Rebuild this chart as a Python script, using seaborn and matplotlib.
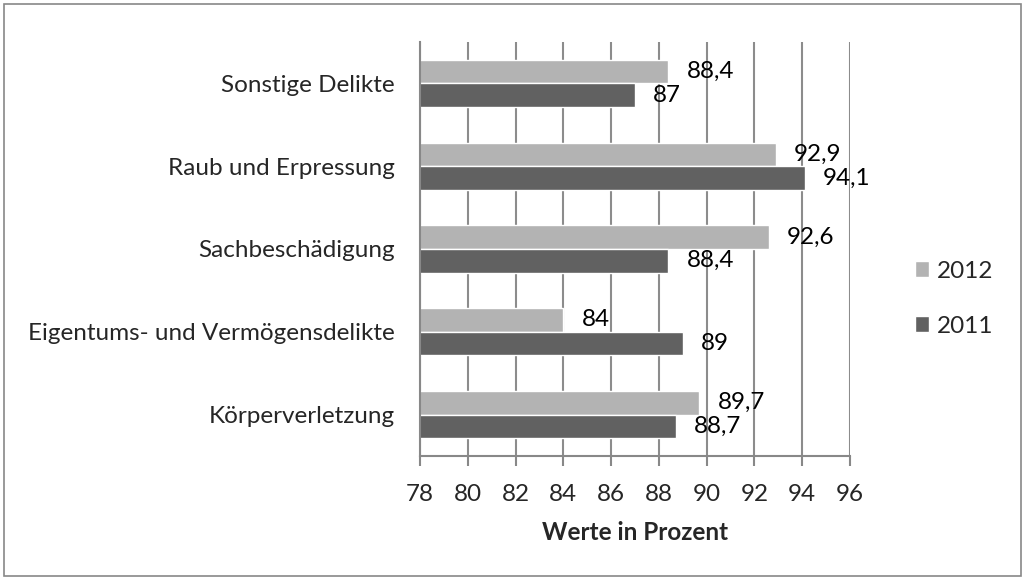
import numpy as np
import pandas as pd
import seaborn as sns
import matplotlib.pyplot as plt
from matplotlib.patches import Rectangle

# Daten (von oben nach unten)
kategorien = ["Sonstige Delikte", "Raub und Erpressung", "Sachbeschädigung",
              "Eigentums- und Vermögensdelikte", "Körperverletzung"]
werte_2012 = [88.4, 92.9, 92.6, 84.0, 89.7]
werte_2011 = [87.0, 94.1, 88.4, 89.0, 88.7]
jahre = ["2012", "2011"]
x_ticks = [78, 80, 82, 84, 86, 88, 90, 92, 94, 96]

df = pd.DataFrame({
    "Kategorie": kategorien * 2,
    "Jahr": ["2012"] * len(kategorien) + ["2011"] * len(kategorien),
    "Wert": werte_2012 + werte_2011,
})

sns.set_theme(style="white")
plt.rcParams["font.family"] = ["Lato", "DejaVu Sans"]
fs = 17.5

fig = plt.figure(figsize=(10.26, 5.8), dpi=100)
ax = fig.add_axes([0.4094, 0.2138, 0.419, 0.7138])

sns.barplot(data=df, y="Kategorie", x="Wert", hue="Jahr", hue_order=jahre,
            order=kategorien, palette=["#b3b3b3", "#616161"], orient="h",
            width=0.57, gap=0, saturation=1, errorbar=None, ax=ax)

# Beschriftungen der Balken
for cont in ax.containers:
    labels = [f"{v:g}".replace(".", ",") for v in cont.datavalues]
    ax.bar_label(cont, labels=labels, padding=13, fontsize=fs, color="black")

ax.set_xlim(78, 96)
ax.set_xticks(x_ticks)
ax.set_xticklabels([str(t) for t in x_ticks], fontsize=fs)
ax.set_ylim(4.5, -0.5)
ax.set_yticks(range(len(kategorien)))
ax.set_yticklabels(kategorien, fontsize=fs)
ax.set_yticks(np.arange(-0.5, len(kategorien)), minor=True)
ax.tick_params(axis="y", which="major", length=0, pad=18)
ax.tick_params(axis="y", which="minor", length=7, width=1.5, color="#888888", direction="out")
ax.tick_params(axis="x", which="major", length=7, width=1.5, color="#888888",
               direction="out", pad=13, bottom=True)
ax.grid(axis="x", color="#8c8c8c", linewidth=1.5)
ax.set_axisbelow(True)

for s in ["top", "right"]:
    ax.spines[s].set_visible(False)
for s in ["left", "bottom"]:
    ax.spines[s].set_color("#888888")
    ax.spines[s].set_linewidth(1.5)

ax.set_ylabel("")
ax.set_xlabel("Werte in Prozent", fontsize=fs, fontweight="bold", labelpad=12)

leg = ax.legend(loc="center left", bbox_to_anchor=(1.1, 0.38), frameon=False,
                fontsize=fs, handlelength=0.6, handleheight=0.6,
                handletextpad=0.3, labelspacing=1.4, title=None)

# Rahmen um die Grafik
fig.patches.append(Rectangle((0.004, 0.007), 0.991, 0.986, transform=fig.transFigure,
                             fill=False, edgecolor="#888888", linewidth=1.2))

plt.savefig("out.png", dpi=100)
